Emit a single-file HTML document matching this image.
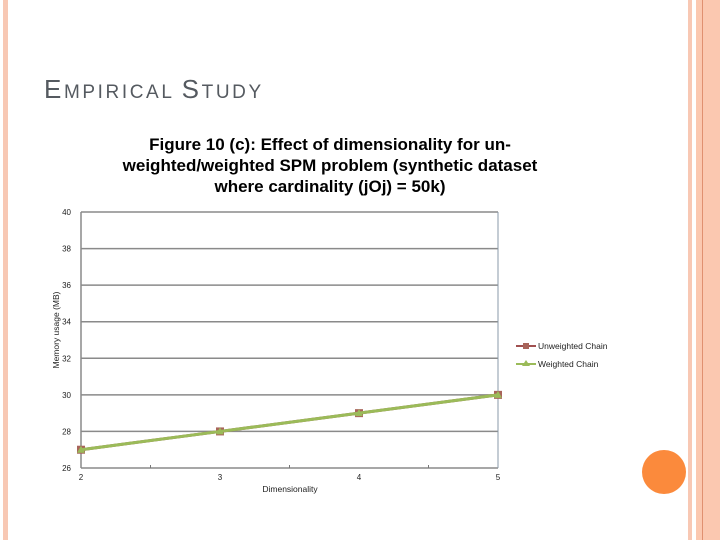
<!DOCTYPE html>
<html><head><meta charset="utf-8"><style>
body{margin:0;width:720px;height:540px;background:#fff;position:relative;overflow:hidden;font-family:"Liberation Sans",sans-serif}
.s{position:absolute;top:0;height:540px}
</style></head><body>
<div class="s" style="left:3px;width:5px;background:#f8c8b4"></div>
<div class="s" style="left:688px;width:4px;background:#f8c8b4"></div>
<div class="s" style="left:696px;width:24px;background:#fbc8b0"></div>
<div class="s" style="left:702px;width:1px;background:#e09070"></div>
<div style="position:absolute;left:44px;top:74px;color:#555a60;font-size:19px;line-height:30px;white-space:nowrap;letter-spacing:2.6px"><span style="font-size:26px">E</span>MPIRICAL <span style="font-size:26px">S</span>TUDY</div>
<div style="position:absolute;left:100px;top:134px;width:460px;text-align:center;font-weight:bold;font-size:17px;line-height:21px;color:#000">Figure 10 (c): Effect of dimensionality for un-<br>weighted/weighted SPM problem (synthetic dataset<br>where cardinality (jOj) = 50k)</div>
<div style="position:absolute;left:642px;top:450px;width:44px;height:44px;border-radius:50%;background:#fb8a3c"></div>
<svg id="c" width="720" height="540" style="position:absolute;left:0;top:0"></svg>
<script>
const categories=[2,3,4,5];
const unweighted=[27,28,29,30];
const weighted=[27,28,29,30];
const yTicks=[26,28,30,32,34,36,38,40];
const NS="http://www.w3.org/2000/svg";
const svg=document.getElementById('c');
const x0=81,x1=498,y0=468,y1=212;
const xs=v=>x0+(v-2)/(5-2)*(x1-x0);
const ys=v=>y0-(v-26)/(40-26)*(y0-y1);
function mk(t,a){const e=document.createElementNS(NS,t);for(const k in a)e.setAttribute(k,a[k]);svg.appendChild(e);return e;}
yTicks.forEach(t=>{
 const l=mk('line',{x1:x0,x2:x1,y1:ys(t),y2:ys(t),stroke:'#8a8a8a','stroke-width':1.5});
 
 
 const tx=mk('text',{x:x0-10,y:ys(t)+3,'text-anchor':'end','font-size':8,fill:'#222','font-family':'Liberation Sans'});
 tx.textContent=t;
 
 
});
let ax=mk('line',{x1:x0,x2:x0,y1:y1,y2:y0,stroke:'#8a8a8a','stroke-width':1.5});


let rx=mk('line',{x1:x1,x2:x1,y1:y1,y2:y0,stroke:'#8a9aa8','stroke-width':1});


categories.forEach(c=>{
 const tx=mk('text',{x:xs(c),y:y0+12,'text-anchor':'middle','font-size':8,fill:'#222','font-family':'Liberation Sans'});
 tx.textContent=c;
 
 
});
for(let i=0;i<categories.length-1;i++){const m=(xs(categories[i])+xs(categories[i+1]))/2;const t=mk('line',{x1:m,x2:m,y1:y0-3,y2:y0,stroke:'#777'});}
let xt=mk('text',{x:290,y:492,'text-anchor':'middle','font-size':8.5,fill:'#222','font-family':'Liberation Sans'});xt.textContent='Dimensionality';


let yt=mk('text',{x:0,y:0,'text-anchor':'middle','font-size':8.5,fill:'#222','font-family':'Liberation Sans',transform:'translate(59,330) rotate(-90)'});yt.textContent='Memory usage (MB)';


const p1=unweighted.map((v,i)=>xs(categories[i])+','+ys(v)).join(' ');
let l1=mk('polyline',{points:p1,fill:'none',stroke:'#a05050','stroke-width':3});


unweighted.forEach((v,i)=>{const r=mk('rect',{x:xs(categories[i])-4,y:ys(v)-4,width:8,height:8,fill:'#a8645a'});});
const p2=weighted.map((v,i)=>xs(categories[i])+','+ys(v)).join(' ');
let l2=mk('polyline',{points:p2,fill:'none',stroke:'#9bbb59','stroke-width':3});


weighted.forEach((v,i)=>{const cx=xs(categories[i]),cy=ys(v);const r=mk('polygon',{points:`${cx},${cy-4} ${cx+4},${cy+3} ${cx-4},${cy+3}`,fill:'#9bbb59'});});
let g1=mk('line',{x1:516,x2:536,y1:346,y2:346,stroke:'#a05050','stroke-width':2});
let g1m=mk('rect',{x:523,y:343,width:6,height:6,fill:'#a8645a'});
let g1t=mk('text',{x:538,y:349,'font-size':8.5,fill:'#222','font-family':'Liberation Sans'});g1t.textContent='Unweighted Chain';
let g2=mk('line',{x1:516,x2:536,y1:364,y2:364,stroke:'#9bbb59','stroke-width':2});
let g2m=mk('polygon',{points:'526,360 530,366 522,366',fill:'#9bbb59'});
let g2t=mk('text',{x:538,y:367,'font-size':8.5,fill:'#222','font-family':'Liberation Sans'});g2t.textContent='Weighted Chain';
</script>
</body></html>
